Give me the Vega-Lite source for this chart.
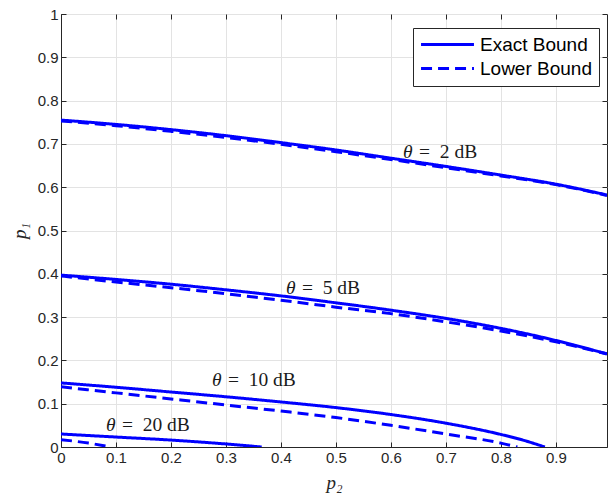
{
  "$schema": "https://vega.github.io/schema/vega-lite/v6.json",
  "width": 546,
  "height": 433,
  "autosize": "none",
  "padding": {"left": 61, "top": 14, "right": 1, "bottom": 50},
  "background": "white",
  "config": {
    "view": {"stroke": "#262626", "strokeWidth": 1},
    "axis": {
      "grid": false,
      "domainColor": "#262626",
      "tickColor": "#262626",
      "gridColor": "#e3e3e3",
      "gridWidth": 1,
      "labelFont": "Liberation Sans",
      "labelFontSize": 15,
      "labelColor": "#262626",
      "labelFlush": false,
      "labelOverlap": false,
      "format": "~g",
      "titleFont": "Liberation Serif",
      "titleFontStyle": "italic",
      "titleFontWeight": "normal",
      "titleFontSize": 19,
      "titleColor": "#262626",
      "tickSize": -5,
      "labelPadding": 8
    },
    "legend": {
      "orient": "none",
      "legendX": 352,
      "legendY": 14,
      "strokeColor": "#262626",
      "fillColor": "white",
      "padding": 7,
      "labelFont": "Liberation Sans",
      "labelFontSize": 19,
      "labelColor": "black",
      "symbolType": "M-5,0H5",
      "symbolSize": 112,
      "symbolStrokeWidth": 3,
      "symbolStrokeColor": "#0000ff",
      "rowPadding": 4,
      "labelOffset": 23,
      "symbolOffset": 18
    }
  },
  "resolve": {"axis": {"x": "independent", "y": "independent"}},
  "datasets": {
    "curves": [
      {"type": "Exact Bound", "theta": "2", "p2": 0.0, "p1": 0.755},
      {"type": "Exact Bound", "theta": "2", "p2": 0.1, "p1": 0.745},
      {"type": "Exact Bound", "theta": "2", "p2": 0.2, "p1": 0.733},
      {"type": "Exact Bound", "theta": "2", "p2": 0.3, "p1": 0.719},
      {"type": "Exact Bound", "theta": "2", "p2": 0.4, "p1": 0.703},
      {"type": "Exact Bound", "theta": "2", "p2": 0.5, "p1": 0.686},
      {"type": "Exact Bound", "theta": "2", "p2": 0.6, "p1": 0.667},
      {"type": "Exact Bound", "theta": "2", "p2": 0.7, "p1": 0.648},
      {"type": "Exact Bound", "theta": "2", "p2": 0.8, "p1": 0.628},
      {"type": "Exact Bound", "theta": "2", "p2": 0.9, "p1": 0.607},
      {"type": "Exact Bound", "theta": "2", "p2": 0.993, "p1": 0.582},
      {"type": "Lower Bound", "theta": "2", "p2": 0.0, "p1": 0.753},
      {"type": "Lower Bound", "theta": "2", "p2": 0.1, "p1": 0.742},
      {"type": "Lower Bound", "theta": "2", "p2": 0.2, "p1": 0.729},
      {"type": "Lower Bound", "theta": "2", "p2": 0.3, "p1": 0.715},
      {"type": "Lower Bound", "theta": "2", "p2": 0.4, "p1": 0.699},
      {"type": "Lower Bound", "theta": "2", "p2": 0.5, "p1": 0.682},
      {"type": "Lower Bound", "theta": "2", "p2": 0.6, "p1": 0.664},
      {"type": "Lower Bound", "theta": "2", "p2": 0.7, "p1": 0.645},
      {"type": "Lower Bound", "theta": "2", "p2": 0.8, "p1": 0.626},
      {"type": "Lower Bound", "theta": "2", "p2": 0.9, "p1": 0.606},
      {"type": "Lower Bound", "theta": "2", "p2": 0.993, "p1": 0.581},
      {"type": "Exact Bound", "theta": "5", "p2": 0.0, "p1": 0.397},
      {"type": "Exact Bound", "theta": "5", "p2": 0.1, "p1": 0.387},
      {"type": "Exact Bound", "theta": "5", "p2": 0.2, "p1": 0.376},
      {"type": "Exact Bound", "theta": "5", "p2": 0.3, "p1": 0.363},
      {"type": "Exact Bound", "theta": "5", "p2": 0.4, "p1": 0.349},
      {"type": "Exact Bound", "theta": "5", "p2": 0.5, "p1": 0.333},
      {"type": "Exact Bound", "theta": "5", "p2": 0.6, "p1": 0.316},
      {"type": "Exact Bound", "theta": "5", "p2": 0.7, "p1": 0.297},
      {"type": "Exact Bound", "theta": "5", "p2": 0.8, "p1": 0.274},
      {"type": "Exact Bound", "theta": "5", "p2": 0.9, "p1": 0.246},
      {"type": "Exact Bound", "theta": "5", "p2": 0.993, "p1": 0.215},
      {"type": "Lower Bound", "theta": "5", "p2": 0.0, "p1": 0.395},
      {"type": "Lower Bound", "theta": "5", "p2": 0.1, "p1": 0.381},
      {"type": "Lower Bound", "theta": "5", "p2": 0.2, "p1": 0.368},
      {"type": "Lower Bound", "theta": "5", "p2": 0.3, "p1": 0.354},
      {"type": "Lower Bound", "theta": "5", "p2": 0.4, "p1": 0.339},
      {"type": "Lower Bound", "theta": "5", "p2": 0.5, "p1": 0.323},
      {"type": "Lower Bound", "theta": "5", "p2": 0.6, "p1": 0.308},
      {"type": "Lower Bound", "theta": "5", "p2": 0.7, "p1": 0.289},
      {"type": "Lower Bound", "theta": "5", "p2": 0.8, "p1": 0.268},
      {"type": "Lower Bound", "theta": "5", "p2": 0.9, "p1": 0.243},
      {"type": "Lower Bound", "theta": "5", "p2": 0.993, "p1": 0.215},
      {"type": "Exact Bound", "theta": "10", "p2": 0.0, "p1": 0.148},
      {"type": "Exact Bound", "theta": "10", "p2": 0.1, "p1": 0.138},
      {"type": "Exact Bound", "theta": "10", "p2": 0.2, "p1": 0.127},
      {"type": "Exact Bound", "theta": "10", "p2": 0.3, "p1": 0.116},
      {"type": "Exact Bound", "theta": "10", "p2": 0.4, "p1": 0.104},
      {"type": "Exact Bound", "theta": "10", "p2": 0.5, "p1": 0.091},
      {"type": "Exact Bound", "theta": "10", "p2": 0.6, "p1": 0.075},
      {"type": "Exact Bound", "theta": "10", "p2": 0.7, "p1": 0.055},
      {"type": "Exact Bound", "theta": "10", "p2": 0.8, "p1": 0.029},
      {"type": "Exact Bound", "theta": "10", "p2": 0.84, "p1": 0.016},
      {"type": "Exact Bound", "theta": "10", "p2": 0.88, "p1": 0.0},
      {"type": "Lower Bound", "theta": "10", "p2": 0.0, "p1": 0.139},
      {"type": "Lower Bound", "theta": "10", "p2": 0.1, "p1": 0.125},
      {"type": "Lower Bound", "theta": "10", "p2": 0.2, "p1": 0.111},
      {"type": "Lower Bound", "theta": "10", "p2": 0.3, "p1": 0.097},
      {"type": "Lower Bound", "theta": "10", "p2": 0.4, "p1": 0.083},
      {"type": "Lower Bound", "theta": "10", "p2": 0.5, "p1": 0.068},
      {"type": "Lower Bound", "theta": "10", "p2": 0.6, "p1": 0.050},
      {"type": "Lower Bound", "theta": "10", "p2": 0.7, "p1": 0.030},
      {"type": "Lower Bound", "theta": "10", "p2": 0.8, "p1": 0.009},
      {"type": "Lower Bound", "theta": "10", "p2": 0.83, "p1": 0.0},
      {"type": "Exact Bound", "theta": "20", "p2": 0.0, "p1": 0.030},
      {"type": "Exact Bound", "theta": "20", "p2": 0.1, "p1": 0.023},
      {"type": "Exact Bound", "theta": "20", "p2": 0.2, "p1": 0.016},
      {"type": "Exact Bound", "theta": "20", "p2": 0.3, "p1": 0.007},
      {"type": "Exact Bound", "theta": "20", "p2": 0.365, "p1": 0.0},
      {"type": "Lower Bound", "theta": "20", "p2": 0.0, "p1": 0.017},
      {"type": "Lower Bound", "theta": "20", "p2": 0.05, "p1": 0.009},
      {"type": "Lower Bound", "theta": "20", "p2": 0.09, "p1": 0.0}
    ],
    "labels": [
      {"rest": "=\u20022 dB", "p2": 0.622, "p1": 0.681},
      {"rest": "=\u20025 dB", "p2": 0.409, "p1": 0.367},
      {"rest": "=\u200210 dB", "p2": 0.2745, "p1": 0.155},
      {"rest": "=\u200220 dB", "p2": 0.0818, "p1": 0.051}
    ]
  },
  "layer": [
    {
      "data": {"name": "curves"},
      "mark": {"type": "line", "color": "#0000ff", "strokeWidth": 3, "interpolate": "monotone", "clip": true},
      "encoding": {
        "x": {"field": "p2", "type": "quantitative", "scale": {"domain": [0, 0.993], "nice": false, "zero": false},
              "axis": {"orient": "bottom", "grid": true, "title": "p₂", "values": [0, 0.1, 0.2, 0.3, 0.4, 0.5, 0.6, 0.7, 0.8, 0.9], "titlePadding": 8}},
        "y": {"field": "p1", "type": "quantitative", "scale": {"domain": [0, 1], "nice": false},
              "axis": {"orient": "left", "grid": true, "title": "p₁", "values": [0, 0.1, 0.2, 0.3, 0.4, 0.5, 0.6, 0.7, 0.8, 0.9, 1], "titlePadding": 8}},
        "detail": {"field": "theta"},
        "strokeDash": {"field": "type", "type": "nominal",
                        "scale": {"domain": ["Exact Bound", "Lower Bound"], "range": [[1, 0], [11, 6]]},
                        "legend": {"title": null}}
      }
    },
    {
      "data": {"name": "labels"},
      "mark": {"type": "text", "text": "θ", "font": "Liberation Serif", "fontStyle": "italic", "fontSize": 19.5, "align": "left", "color": "#1a1a1a"},
      "encoding": {
        "x": {"field": "p2", "type": "quantitative",
              "axis": {"orient": "top", "title": null, "labels": false, "grid": false, "gridOpacity": 0, "domain": false, "values": [0, 0.1, 0.2, 0.3, 0.4, 0.5, 0.6, 0.7, 0.8, 0.9]}},
        "y": {"field": "p1", "type": "quantitative",
              "axis": {"orient": "right", "title": null, "labels": false, "grid": false, "gridOpacity": 0, "domain": false, "values": [0, 0.1, 0.2, 0.3, 0.4, 0.5, 0.6, 0.7, 0.8, 0.9, 1]}}
      }
    },
    {
      "data": {"name": "labels"},
      "mark": {"type": "text", "font": "Liberation Serif", "fontSize": 19.5, "align": "left", "dx": 16, "color": "#1a1a1a"},
      "encoding": {
        "x": {"field": "p2", "type": "quantitative", "axis": null},
        "y": {"field": "p1", "type": "quantitative", "axis": null},
        "text": {"field": "rest"}
      }
    }
  ]
}
